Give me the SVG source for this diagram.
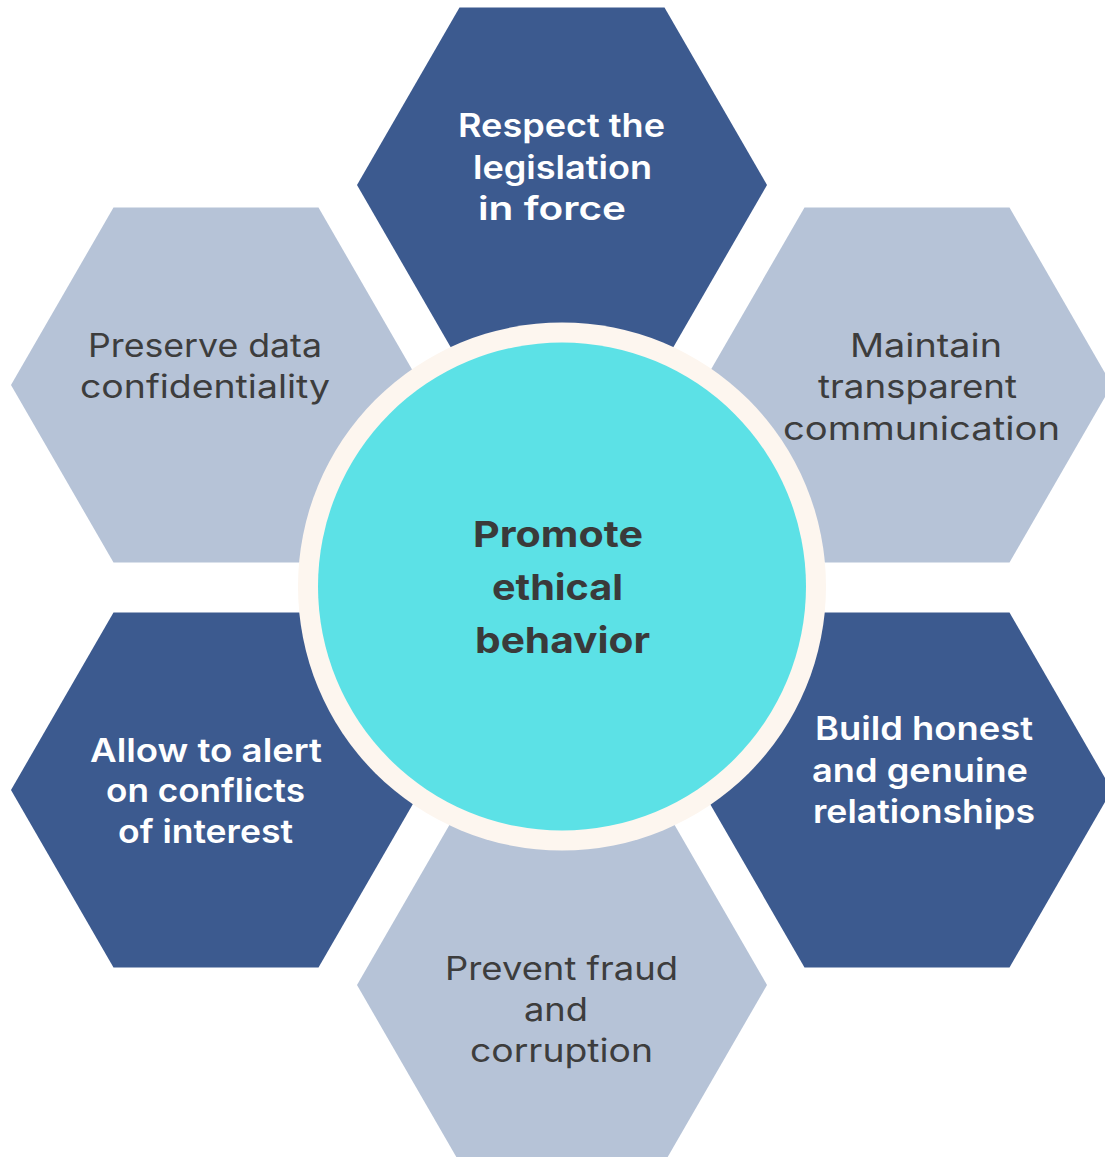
<svg xmlns="http://www.w3.org/2000/svg" xmlns:xlink="http://www.w3.org/1999/xlink" width="1105" height="1157" viewBox="0 0 1105 1157">
  <defs>
    <!-- flat-topped regular hexagon, R = 205, centred on the origin -->
    <polygon id="hex" points="-205,0 -102.5,-177.5 102.5,-177.5 205,0 102.5,177.5 -102.5,177.5"/>
    <style>
      .dark { fill: #3C5A8F; }
      .light { fill: #B6C3D7; }
      .t { font-family: Inter, "Noto Sans", "DejaVu Sans", sans-serif; font-size: 32px; }
      .tw { fill: #FFFFFF; font-weight: 600; }
      .td { fill: #3D3D3D; font-weight: 400; }
      .tc { font-family: Inter, "Noto Sans", "DejaVu Sans", sans-serif; font-size: 36px; font-weight: 700; fill: #3A3A3A; }
    </style>
  </defs>
  <rect width="1105" height="1157" fill="#FFFFFF"/>

  <g id="node-legislation">
    <use xlink:href="#hex" class="dark" transform="translate(562,185)"/>
    <text class="t tw" x="458" y="137" textLength="207" lengthAdjust="spacingAndGlyphs">Respect the</text>
    <text class="t tw" x="473" y="179" textLength="179" lengthAdjust="spacingAndGlyphs">legislation</text>
    <text class="t tw" x="478" y="220" textLength="148" lengthAdjust="spacingAndGlyphs">in force</text>
  </g>

  <g id="node-data">
    <use xlink:href="#hex" class="light" transform="translate(216,385)"/>
    <text class="t td" x="88" y="357" textLength="234" lengthAdjust="spacingAndGlyphs">Preserve data</text>
    <text class="t td" x="80" y="398" textLength="250" lengthAdjust="spacingAndGlyphs">confidentiality</text>
  </g>

  <g id="node-communication">
    <use xlink:href="#hex" class="light" transform="translate(907,385)"/>
    <text class="t td" x="850" y="357" textLength="152" lengthAdjust="spacingAndGlyphs">Maintain</text>
    <text class="t td" x="818" y="398" textLength="199" lengthAdjust="spacingAndGlyphs">transparent</text>
    <text class="t td" x="783" y="440" textLength="277" lengthAdjust="spacingAndGlyphs">communication</text>
  </g>

  <g id="node-conflicts">
    <use xlink:href="#hex" class="dark" transform="translate(216,790)"/>
    <text class="t tw" x="90" y="762" textLength="232" lengthAdjust="spacingAndGlyphs">Allow to alert</text>
    <text class="t tw" x="106" y="802" textLength="199" lengthAdjust="spacingAndGlyphs">on conflicts</text>
    <text class="t tw" x="118" y="843" textLength="175" lengthAdjust="spacingAndGlyphs">of interest</text>
  </g>

  <g id="node-relationships">
    <use xlink:href="#hex" class="dark" transform="translate(907,790)"/>
    <text class="t tw" x="815" y="740" textLength="218" lengthAdjust="spacingAndGlyphs">Build honest</text>
    <text class="t tw" x="812" y="782" textLength="216" lengthAdjust="spacingAndGlyphs">and genuine</text>
    <text class="t tw" x="813" y="823" textLength="222" lengthAdjust="spacingAndGlyphs">relationships</text>
  </g>

  <g id="node-fraud">
    <use xlink:href="#hex" class="light" transform="translate(562,985)"/>
    <text class="t td" x="445" y="980" textLength="233" lengthAdjust="spacingAndGlyphs">Prevent fraud</text>
    <text class="t td" x="524" y="1021" textLength="64" lengthAdjust="spacingAndGlyphs">and</text>
    <text class="t td" x="470" y="1062" textLength="183" lengthAdjust="spacingAndGlyphs">corruption</text>
  </g>

  <g id="node-center">
    <circle cx="562" cy="586.5" r="264" fill="#FDF6EF"/>
    <circle cx="562" cy="586.5" r="244" fill="#5CE1E6"/>
    <text class="tc" x="473" y="547" textLength="170" lengthAdjust="spacingAndGlyphs">Promote</text>
    <text class="tc" x="492" y="600" textLength="131" lengthAdjust="spacingAndGlyphs">ethical</text>
    <text class="tc" x="475" y="653" textLength="175" lengthAdjust="spacingAndGlyphs">behavior</text>
  </g>
</svg>
